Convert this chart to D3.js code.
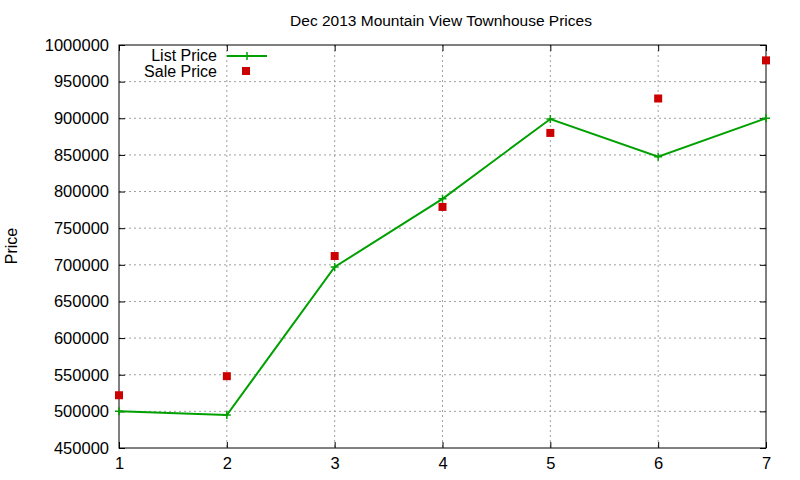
<!DOCTYPE html>
<html><head><meta charset="utf-8">
<script src="https://d3js.org/d3.v7.min.js"></script>
<style>body{margin:0;background:#fff}svg{display:block}text{font-family:"Liberation Sans",Arial,sans-serif}</style>
</head><body><svg id="c" width="800" height="480"></svg>
<script>
const xs=[1,2,3,4,5,6,7];
const listPrice=[500000,495000,697000,790000,899000,847500,900000];
const salePrice=[522000,548000,712000,779000,880000,927000,979000];
const yTicks=[450000,500000,550000,600000,650000,700000,750000,800000,850000,900000,950000,1000000];
const svg=d3.select("#c");
const L=119,R=766,T=45,B=448;
const x=d3.scaleLinear().domain([1,7]).range([L,R]);
const y=d3.scaleLinear().domain([450000,1000000]).range([B,T]);
const g=svg.append("g");
g.selectAll(".gx").data(xs.slice(1,-1)).enter().append("line").attr("x1",d=>x(d)).attr("x2",d=>x(d)).attr("y1",T).attr("y2",B).attr("stroke","#a0a0a0").attr("stroke-dasharray","2,3");
g.selectAll(".gy").data(yTicks.slice(1,-1)).enter().append("line").attr("x1",L).attr("x2",R).attr("y1",d=>y(d)).attr("y2",d=>y(d)).attr("stroke","#a0a0a0").attr("stroke-dasharray","2,3");
const ax=g.append("g").attr("transform",`translate(0,${B})`).call(d3.axisBottom(x).tickValues(xs).tickSize(-6).tickPadding(9).tickFormat(d3.format("d")));
const ax2=g.append("g").attr("transform",`translate(0,${T})`).call(d3.axisTop(x).tickValues(xs).tickSize(-6).tickFormat(""));
const ay=g.append("g").attr("transform",`translate(${L},0)`).call(d3.axisLeft(y).tickValues(yTicks).tickSize(-6).tickPadding(10).tickFormat(d3.format("d")));
const ay2=g.append("g").attr("transform",`translate(${R},0)`).call(d3.axisRight(y).tickValues(yTicks).tickSize(-6).tickFormat(""));
[ax,ax2,ay,ay2].forEach(a=>{a.select(".domain").remove();a.selectAll("line").attr("stroke","#000");a.selectAll("text").attr("font-size",16.5).attr("fill","#000").style("font-family","Liberation Sans, Arial, sans-serif");});
g.append("rect").attr("x",L).attr("y",T).attr("width",R-L).attr("height",B-T).attr("fill","none").attr("stroke","#000");
const col="#00a000";
g.append("path").datum(xs.map((d,i)=>[d,listPrice[i]])).attr("d",d3.line().x(d=>x(d[0])).y(d=>y(d[1]))).attr("fill","none").attr("stroke",col).attr("stroke-width",2);
const plus=(sel,cx,cy)=>{sel.append("path").attr("d",`M${cx-4},${cy}H${cx+4}M${cx},${cy-4}V${cy+4}`).attr("stroke",col).attr("stroke-width",1.5);};
xs.forEach((d,i)=>plus(g,x(d),y(listPrice[i])));
g.selectAll(".s").data(xs).enter().append("rect").attr("x",(d)=>x(d)-4).attr("y",(d,i)=>y(salePrice[i])-4).attr("width",8).attr("height",8).attr("fill","#cc0000");
g.append("text").attr("x",217).attr("y",61).attr("text-anchor","end").attr("font-size",16).text("List Price");
g.append("line").attr("x1",227).attr("x2",267).attr("y1",56).attr("y2",56).attr("stroke",col).attr("stroke-width",2);
plus(g,247,56);
g.append("text").attr("x",217).attr("y",77).attr("text-anchor","end").attr("font-size",16).text("Sale Price");
g.append("rect").attr("x",242).attr("y",67).attr("width",8).attr("height",8).attr("fill","#cc0000");
svg.append("text").attr("x",441).attr("y",26).attr("text-anchor","middle").attr("font-size",15.5).text("Dec 2013 Mountain View Townhouse Prices");
svg.append("text").attr("transform","translate(17,246) rotate(-90)").attr("text-anchor","middle").attr("font-size",16).text("Price");
</script></body></html>
